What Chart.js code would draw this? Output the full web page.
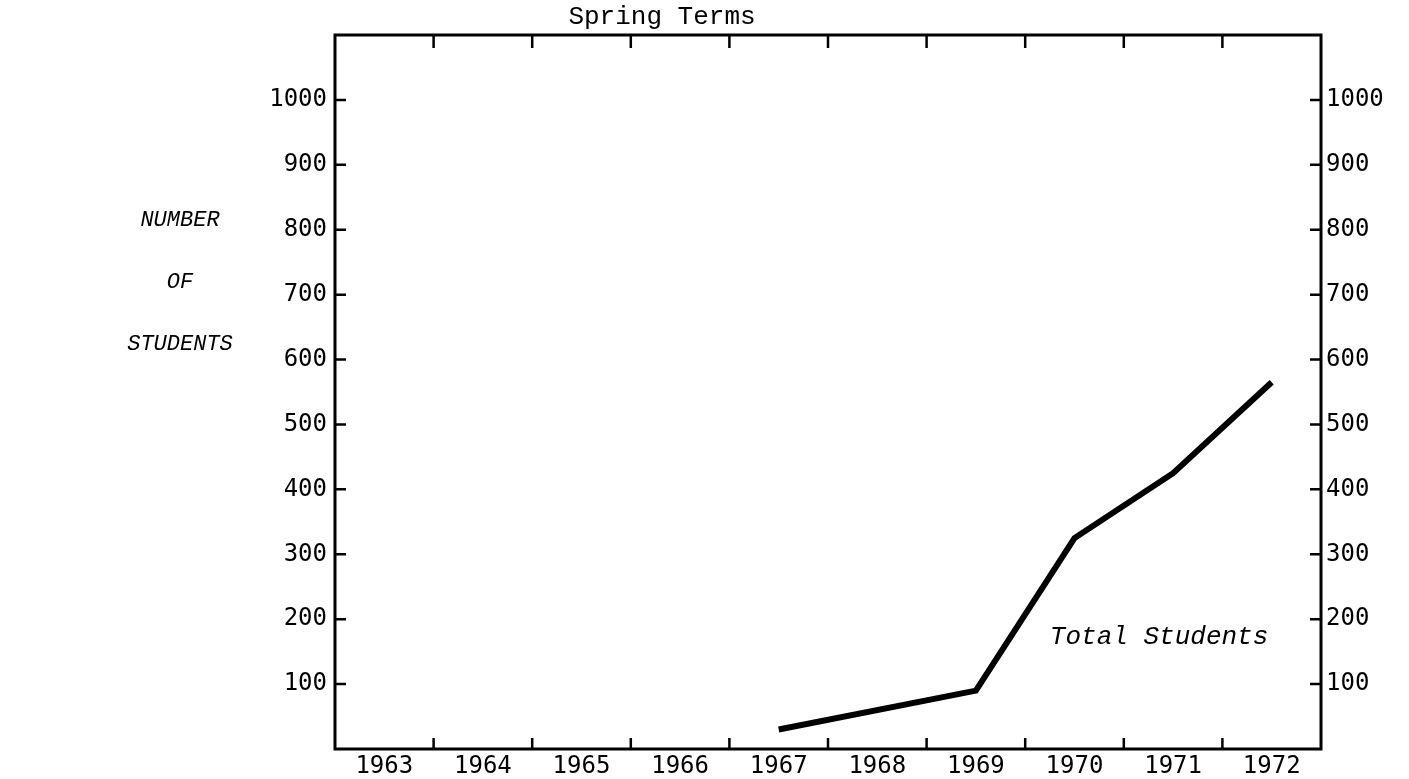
<!DOCTYPE html>
<html>
<head>
<meta charset="utf-8">
<script src="https://cdn.jsdelivr.net/npm/chart.js@4.4.1/dist/chart.umd.min.js"></script>
<style>
html,body{margin:0;padding:0;background:#fff;}
</style>
</head>
<body>
<canvas id="myChart" width="1409" height="779"></canvas>
<script>
// values (spring terms)
const years=['1963','1964','1965','1966','1967','1968','1969','1970','1971','1972'];
const totalStudents=[null,null,null,null,30,null,90,325,425,565];
const yTicks=[100,200,300,400,500,600,700,800,900,1000];
const yTitle=['NUMBER','OF','STUDENTS'];
const topTitle='Spring Terms';
const seriesLabel='Total Students';
const seriesLabelAt={x:6.75,y:172};

const numFont={family:'DejaVu Sans Mono',size:24};

// frame, inward tick marks and the free texts
const decor={
    id:'decor',
    afterDraw(chart){
        const ctx=chart.ctx;
        const a=chart.chartArea;
        const xs=chart.scales.x;
        const ys=chart.scales.y;
        ctx.save();
        ctx.strokeStyle='#000';
        ctx.lineWidth=3;
        ctx.strokeRect(a.left,a.top,a.right-a.left,a.bottom-a.top);
        ctx.lineWidth=2.5;
        ctx.beginPath();
        for(let i=1;i<years.length;i++)
        {
            let px=xs.getPixelForValue(i)-(xs.getPixelForValue(1)-xs.getPixelForValue(0))/2;
            ctx.moveTo(px,a.top);ctx.lineTo(px,a.top+13);
            ctx.moveTo(px,a.bottom);ctx.lineTo(px,a.bottom-11);
        }
        yTicks.forEach(v=>{
            let py=ys.getPixelForValue(v);
            ctx.moveTo(a.left,py);ctx.lineTo(a.left+11,py);
            ctx.moveTo(a.right,py);ctx.lineTo(a.right-11,py);
        });
        ctx.stroke();

        ctx.fillStyle='#000';
        ctx.textBaseline='middle';
        ctx.textAlign='center';
        ctx.font='26px "Liberation Mono"';
        ctx.fillText(topTitle,662,17);
        ctx.font='italic 22px "Liberation Mono"';
        yTitle.forEach((t,i)=>{
            ctx.fillText(t,180,220+i*62);
        });
        ctx.textAlign='left';
        ctx.font='italic 26px "Liberation Mono"';
        ctx.fillText(seriesLabel,xs.getPixelForValue(seriesLabelAt.x),ys.getPixelForValue(seriesLabelAt.y));
        ctx.restore();
    }
};

let myChart=document.getElementById('myChart').getContext('2d');
new Chart(myChart,{
    type:'line',
    data:{
        labels:years,
        datasets:[{
            label:seriesLabel,
            data:totalStudents,
            borderColor:'#000',
            borderWidth:6,
            pointRadius:0,
            spanGaps:true,
            tension:0,
            borderJoinStyle:'miter'
        }]
    },
    options:{
        responsive:false,
        devicePixelRatio:1,
        animation:false,
        layout:{padding:{top:35,left:0,right:0,bottom:0}},
        plugins:{legend:{display:false},tooltip:{enabled:false}},
        scales:{
            x:{
                type:'category',
                offset:true,
                grid:{display:false,drawTicks:false},
                border:{display:false},
                ticks:{color:'#000',font:numFont,padding:3,maxRotation:0,autoSkip:false},
                afterFit(s){s.height=30;}
            },
            y:{
                position:'left',
                min:0,max:1100,
                grid:{display:false,drawTicks:false},
                border:{display:false},
                afterBuildTicks(s){s.ticks=yTicks.map(v=>({value:v}));},
                ticks:{color:'#000',font:numFont,padding:8,callback:v=>String(v)},
                afterFit(s){s.width=335;}
            },
            y2:{
                position:'right',
                min:0,max:1100,
                grid:{display:false,drawTicks:false},
                border:{display:false},
                afterBuildTicks(s){s.ticks=yTicks.map(v=>({value:v}));},
                ticks:{color:'#000',font:numFont,padding:5,callback:v=>String(v)},
                afterFit(s){s.width=88;}
            }
        }
    },
    plugins:[decor]
});
</script>
</body>
</html>
